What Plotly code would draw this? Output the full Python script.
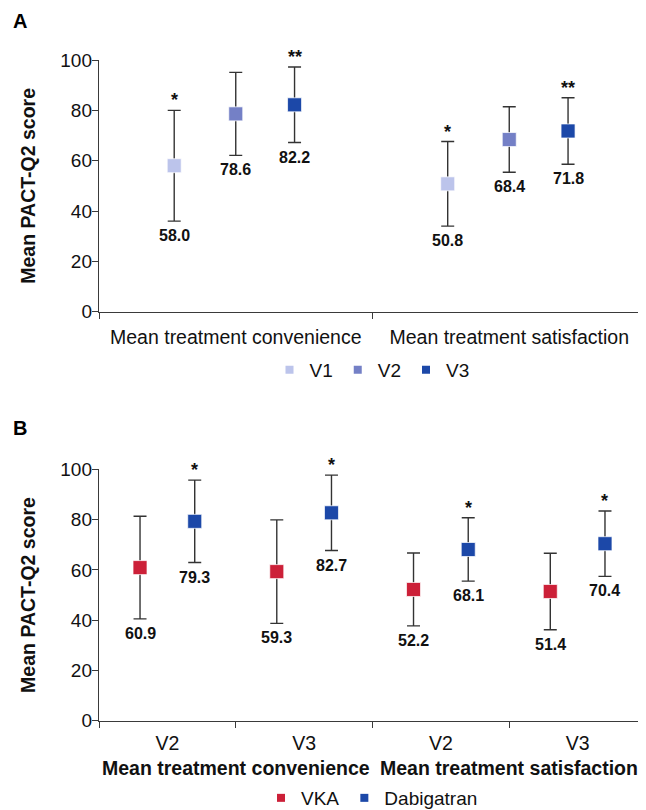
import plotly.graph_objects as go

# ---------------- data ----------------
# Panel A
a_categories = ["Mean treatment convenience", "Mean treatment satisfaction"]
a_series = ["V1", "V2", "V3"]
a_means = {"V1": [58.0, 50.8], "V2": [78.6, 68.4], "V3": [82.2, 71.8]}
a_sd = {"V1": [22.0, 16.8], "V2": [16.5, 13.0], "V3": [15.0, 13.2]}
a_signif = {"V1": ["*", "*"], "V2": ["", ""], "V3": ["**", "**"]}

# Panel B
b_groups = ["Mean treatment convenience", "Mean treatment satisfaction"]
b_visits = ["V2", "V3", "V2", "V3"]
b_series = ["VKA", "Dabigatran"]
b_means = {"VKA": [60.9, 59.3, 52.2, 51.4], "Dabigatran": [79.3, 82.7, 68.1, 70.4]}
b_sd = {"VKA": [20.4, 20.6, 14.5, 15.2], "Dabigatran": [16.4, 15.0, 12.6, 13.0]}
b_signif = {"VKA": ["", "", "", ""], "Dabigatran": ["*", "*", "*", "*"]}

y_ticks = [0, 20, 40, 60, 80, 100]

# ---------------- style ----------------
# the page body has an 8px margin, so the figure is drawn 8px in from the
# window's top-left corner; work in window pixels and convert.
OX, OY = 8, 8
W, H = 646 - OX, 810 - OY
FONT = "Liberation Sans, Arial, sans-serif"
colors = {"V1": "#BCC4EB", "V2": "#7480C6", "V3": "#1C48A8",
          "VKA": "#CC2038", "Dabigatran": "#1C48A8"}
a_offsets = {"V1": -0.225, "V2": 0.0, "V3": 0.215}
b_offsets = {"VKA": -0.2, "Dabigatran": 0.2}
axis_col = "#3a3a3a"
err_col = "#333333"


def py(p):
    return (H - (p - OY)) / H


def px(p):
    return (p - OX) / W


x_dom = [px(99), 1.0]
a_ydom = [py(311.7), py(60)]
b_ydom = [py(720.7), py(469.3)]

fig = go.Figure()
annotations = []


def add_panel(series, cats_n, means, sds, signif, offsets, xa, ya, legend):
    for s in series:
        xs = [i + offsets[s] for i in range(cats_n)]
        fig.add_trace(go.Scatter(
            x=xs, y=means[s], mode="markers", xaxis=xa, yaxis=ya,
            marker=dict(symbol="square", size=14, color=colors[s],
                        line=dict(width=1, color="rgba(255,255,255,0.7)")),
            error_y=dict(type="data", array=sds[s], visible=True,
                         color=err_col, thickness=1.4, width=6.5),
            showlegend=False, name=s, cliponaxis=False))
        # legend entry (small square)
        fig.add_trace(go.Scatter(
            x=[None], y=[None], mode="markers", xaxis=xa, yaxis=ya,
            marker=dict(symbol="square", size=8, color=colors[s]),
            name=s, legend=legend, showlegend=True))
        for i, (m, sd, sg) in enumerate(zip(means[s], sds[s], signif[s])):
            annotations.append(dict(
                x=xs[i], y=m - sd, xref=xa, yref=ya, text=f"<b>{m:.1f}</b>",
                showarrow=False, yanchor="top", yshift=-4,
                font=dict(size=16, color="#111", family=FONT)))
            if sg:
                annotations.append(dict(
                    x=xs[i], y=m + sd, xref=xa, yref=ya, text=f"<b>{sg}</b>",
                    showarrow=False, yanchor="bottom", yshift=-2,
                    font=dict(size=18, color="#111", family=FONT)))


add_panel(a_series, len(a_categories), a_means, a_sd, a_signif, a_offsets,
          "x", "y", "legend")
add_panel(b_series, len(b_visits), b_means, b_sd, b_signif, b_offsets,
          "x2", "y2", "legend2")

# group labels for panel B
for gi, g in enumerate(b_groups):
    annotations.append(dict(
        x=gi * 2 + 0.5, y=py(768), xref="x2", yref="paper", text=f"<b>{g}</b>",
        showarrow=False, yanchor="middle", xanchor="center",
        font=dict(size=19.5, color="#111", family=FONT)))

# panel letters
annotations.append(dict(x=px(20), y=py(21), xref="paper", yref="paper",
                        text="<b>A</b>", showarrow=False, xanchor="center", yanchor="middle",
                        font=dict(size=20, color="#000", family=FONT)))
annotations.append(dict(x=px(20), y=py(428), xref="paper", yref="paper",
                        text="<b>B</b>", showarrow=False, xanchor="center", yanchor="middle",
                        font=dict(size=20, color="#000", family=FONT)))

yaxis_common = dict(range=[0, 100], tickvals=y_ticks, showline=True, linecolor=axis_col,
                    linewidth=1.4, ticks="outside", ticklen=6, tickcolor=axis_col,
                    tickwidth=1.4, showgrid=False, zeroline=False, automargin=False,
                    ticklabelstandoff=-4,
                    tickfont=dict(size=19, color="#111", family=FONT),
                    title=dict(text="<b>Mean PACT-Q2 score</b>", standoff=19,
                               font=dict(size=19.5, color="#111", family=FONT)))

xaxis_common = dict(showline=True, linecolor=axis_col, linewidth=1.4, showgrid=False,
                    zeroline=False, ticks="", automargin=False,
                    tickfont=dict(size=19.5, color="#111", family=FONT),
                    minor=dict(ticks="outside", ticklen=6, tickcolor=axis_col, tickwidth=1.4,
                               tick0=0.5, dtick=1, showgrid=False))

fig.update_layout(
    template="none",
    width=W, height=H, margin=dict(l=0, r=0, t=0, b=0, pad=0, autoexpand=False),
    paper_bgcolor="white", plot_bgcolor="white",
    font=dict(family=FONT, color="#111"),
    xaxis=dict(domain=x_dom, anchor="y", range=[-0.5, 1.5], tickmode="array",
               tickvals=list(range(len(a_categories))), ticktext=a_categories,
               ticklabelstandoff=8, **xaxis_common),
    yaxis=dict(domain=a_ydom, anchor="x", **yaxis_common),
    xaxis2=dict(domain=x_dom, anchor="y2", range=[-0.5, 3.5], tickmode="array",
                tickvals=list(range(len(b_visits))), ticktext=b_visits,
                ticklabelstandoff=5, **xaxis_common),
    yaxis2=dict(domain=b_ydom, anchor="x2", **yaxis_common),
    legend=dict(orientation="h", x=px(372), y=py(370), xanchor="center", yanchor="middle",
                font=dict(size=19, color="#111", family=FONT), bgcolor="rgba(0,0,0,0)",
                itemwidth=30, tracegroupgap=0),
    legend2=dict(orientation="h", x=px(372), y=py(798), xanchor="center", yanchor="middle",
                 font=dict(size=19, color="#111", family=FONT), bgcolor="rgba(0,0,0,0)",
                 itemwidth=30),
    annotations=annotations,
)

fig.write_html("out.html")
